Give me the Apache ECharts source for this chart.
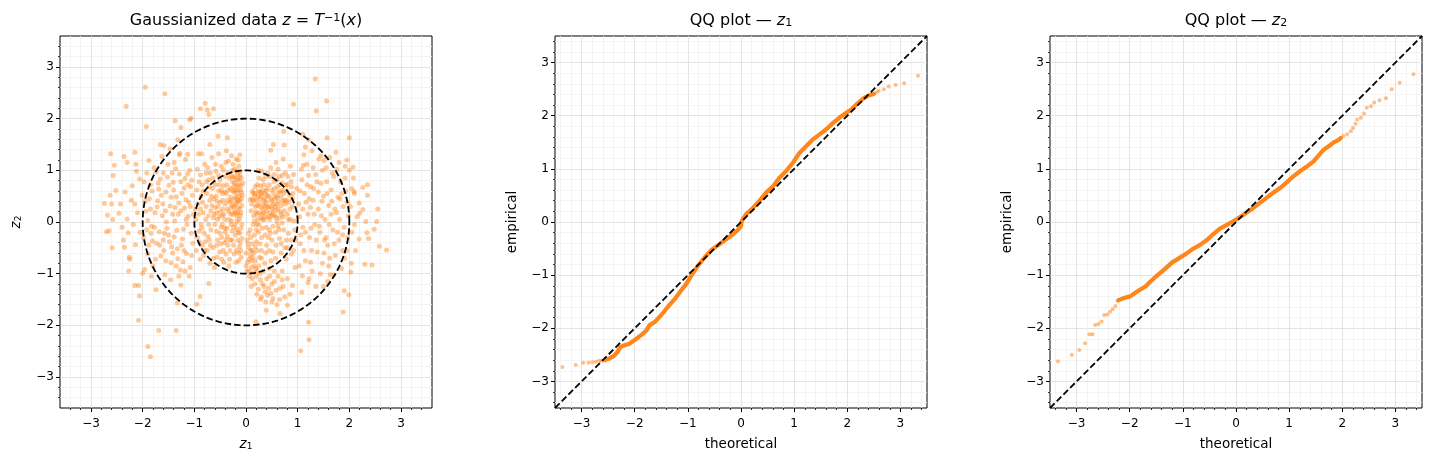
<!DOCTYPE html>
<html>
<head>
<meta charset="utf-8">
<script src="https://cdn.jsdelivr.net/npm/echarts@6/dist/echarts.min.js"></script>
<style>
    html, body { margin: 0; padding: 0; background: #fff; }
    #chart { width: 1432px; height: 462px; }
</style>
</head>
<body>
<div id="chart"></div>
<script>
// 数据: 读自原图
const majorTicks = [-3, -2, -1, 0, 1, 2, 3]
const circleRadii = [1, 2]

// 散点 z = T^-1(x)
const scatterPoints = [
    // 外围点
    [-1.95, 2.61], [-1.57, 2.48], [-2.32, 2.24], [1.34, 2.77], [1.56, 2.34], [1.36, 2.15], [0.92, 2.28],
    [-0.79, 2.3], [-0.88, 2.19], [-0.75, 2.17], [-0.63, 2.19], [-0.72, 2.08], [-1.06, 2.01], [-1.09, 1.98],
    [-1.37, 1.96], [-1.26, 1.83], [-1.93, 1.85],
    [-2.62, 1.32], [-2.55, 1.1], [-2.36, 1.27], [-2.3, 1.15], [-2.15, 1.35], [-2.13, 1.12], [-2.57, 0.9],
    [-2.06, 0.83], [-2.52, 0.61], [-2.63, 0.52], [-2.34, 0.58], [-2.74, 0.36], [-2.6, 0.35], [-2.46, 0.17],
    [-2.68, 0.13], [-2.58, 0.05], [-2.65, -0.17], [-2.7, -0.19], [-2.59, -0.5], [-2.37, -0.35], [-2.28, -0.21],
    [-2.35, -0.49], [-2.26, -0.68], [-2.27, -0.95], [-2.15, -1.23], [-2.08, -1.23], [-2.06, -1.43], [-2.08, -1.9],
    [-1.9, -2.41], [-1.85, -2.61], [-1.69, -2.1], [-1.35, -2.1], [-2.0, -0.99], [-1.83, -1.05], [-1.74, -1.31],
    [-1.33, -1.57], [-1.26, -1.22], [-0.95, -1.59], [-0.89, -1.44], [-0.72, -1.19],
    [0.19, -1.93], [0.39, -1.71], [0.66, -1.77], [0.8, -1.61], [1.21, -1.94], [1.22, -2.28], [1.06, -2.49],
    [0.9, -1.23], [1.09, -1.04], [1.08, -1.36], [1.2, -1.17], [1.5, -1.25], [1.88, -1.74], [1.99, -1.41],
    [1.9, -1.33], [2.03, -0.97], [2.04, -0.8], [2.3, -0.82], [2.44, -0.83], [2.19, -0.33], [2.34, -0.21],
    [2.48, -0.14], [2.37, -0.32], [2.58, -0.47], [2.72, -0.54], [2.53, 0.01], [2.32, 0.01], [2.26, 0.24],
    [2.55, 0.25], [2.19, 0.37], [2.35, 0.52], [2.35, 0.72], [2.26, 0.67], [2.09, 0.59], [2.07, 1.06],
    [2.0, 1.63], [2.2, 0.17], [1.92, 1.08], [1.57, 1.63], [1.51, 1.19], [1.21, 1.59], [1.1, 1.7],
    [0.73, 1.75], [0.74, 1.49], [0.53, 1.5], [0.48, 1.39], [0.72, 1.22], [0.58, 1.15], [0.13, 0.56], [0.08, 0.43],
    [-0.54, 1.66], [-0.36, 1.63], [-0.7, 1.5], [-0.92, 1.32], [-0.86, 1.32], [-1.13, 1.31], [-1.29, 1.3],
    [-1.59, 1.48], [-1.66, 1.5], [-1.47, 1.42], [-1.32, 1.59],
    // 左侧环带
    [-1.92, 0.95], [-1.85, 0.72], [-1.78, 1.05], [-1.71, 0.41], [-1.66, 0.83], [-1.62, 0.12], [-1.58, -0.22],
    [-1.55, 0.58], [-1.51, 1.12], [-1.47, 0.31], [-1.44, -0.48], [-1.41, 0.77], [-1.38, 0.02], [-1.35, 0.49],
    [-1.32, -0.71], [-1.29, 0.93], [-1.26, 0.22], [-1.23, -0.33], [-1.2, 0.66], [-1.17, 1.21], [-1.14, -0.05],
    [-1.11, 0.38], [-1.08, -0.88], [-1.05, 0.81], [-1.03, -0.41], [-1.98, -0.31], [-1.94, 0.21], [-1.9, -0.62],
    [-1.87, 0.45], [-1.83, -0.08], [-1.8, -0.85], [-1.76, 0.18], [-1.73, -0.41], [-1.69, 0.64], [-1.65, -0.66],
    [-1.61, 0.35], [-1.57, -1.02], [-1.53, -0.12], [-1.49, 0.71], [-1.45, -0.79], [-1.42, 0.15], [-1.39, -0.29],
    [-1.36, 1.03], [-1.33, -0.52], [-1.3, 0.37], [-1.27, -0.93], [-1.24, 0.55], [-1.21, -0.14], [-1.18, 0.84],
    [-1.15, -0.61], [-1.12, 0.11], [-1.09, 1.0], [-1.06, -0.22], [-1.04, 0.52], [-2.01, 0.52], [-1.96, -0.92],
    [-1.88, 1.19], [-1.81, -0.37], [-1.74, 0.97], [-1.68, -0.19], [-1.63, 1.27], [-1.59, -0.55], [-1.52, 0.87],
    [-1.46, -1.12], [-1.4, 0.62], [-1.34, -0.16], [-1.28, 1.33], [-1.22, -0.77], [-1.16, 0.43], [-1.1, -1.05],
    [-1.07, 0.68], [-1.9, 0.03], [-1.72, 0.29], [-1.56, 0.22], [-1.37, 0.28], [-1.19, 0.27], [-1.84, -0.22],
    [-1.48, -0.38], [-1.25, -0.45], [-1.13, 0.93], [-1.64, 0.52], [-1.43, 0.95], [-1.97, 0.78], [-2.1, 0.18],
    [-2.18, -0.05], [-2.22, 0.42], [-2.14, -0.44], [-2.2, 0.7], [-2.25, -0.72], [-2.3, 0.06], [-2.4, -0.1],
    [-2.12, 0.98], [-2.43, 0.35],
    [-1.95, 0.4], [-1.88, -0.45], [-1.82, 0.6], [-1.77, -0.1], [-1.7, 0.75], [-1.67, -0.45], [-1.6, 0.95],
    [-1.54, 0.0], [-1.5, -0.25], [-1.45, 0.48], [-1.39, 1.15], [-1.35, -0.85], [-1.31, 0.15], [-1.26, 0.78],
    [-1.2, -0.55], [-1.16, 0.05], [-1.12, 0.72], [-1.08, 0.3], [-1.05, -0.65], [-1.02, 0.15], [-1.55, -0.75],
    [-1.75, -0.72], [-1.42, -0.6], [-1.3, -1.05], [-1.18, -0.95], [-1.6, -0.35], [-1.85, 0.25], [-2.05, -0.2],
    [-2.15, 0.35], [-1.92, -0.15],
    // 左侧内簇
    [-0.95, 0.62], [-0.92, 0.15], [-0.9, -0.38], [-0.88, 0.91], [-0.86, -0.12], [-0.84, 0.38], [-0.82, -0.65],
    [-0.8, 1.12], [-0.78, 0.05], [-0.76, 0.55], [-0.74, -0.28], [-0.72, 0.82], [-0.7, -0.8], [-0.68, 0.22],
    [-0.66, 1.25], [-0.64, -0.5], [-0.62, 0.45], [-0.6, -0.05], [-0.58, 0.98], [-0.56, -0.68], [-0.54, 0.3],
    [-0.52, 0.72], [-0.5, -0.22], [-0.48, 1.08], [-0.46, 0.12], [-0.44, -0.55], [-0.42, 0.58], [-0.4, 0.88],
    [-0.38, -0.35], [-0.36, 0.25], [-0.34, 1.18], [-0.32, -0.72], [-0.3, 0.48], [-0.28, 0.02], [-0.26, 0.78],
    [-0.24, -0.45], [-0.22, 1.02], [-0.2, 0.35], [-0.18, -0.15], [-0.16, 0.62], [-0.14, -0.6], [-0.12, 0.9],
    [-0.1, 0.18], [-0.08, -0.32], [-0.07, 0.52], [-0.93, 0.35], [-0.89, -0.72], [-0.85, 0.72], [-0.81, -0.22],
    [-0.77, 0.95], [-0.73, 0.12], [-0.69, -0.45], [-0.65, 0.65], [-0.61, -0.88], [-0.57, 0.18], [-0.53, 1.32],
    [-0.49, -0.42], [-0.45, 0.42], [-0.41, -0.12], [-0.37, 0.72], [-0.33, -0.85], [-0.29, 0.28], [-0.25, 1.12],
    [-0.21, -0.25], [-0.17, 0.82], [-0.13, 0.05], [-0.09, -0.68], [-0.06, 0.75], [-0.35, 0.95], [-0.3, 0.65],
    [-0.27, 0.42], [-0.23, 0.58], [-0.19, 0.45], [-0.15, 0.28], [-0.11, 0.62], [-0.22, 0.75], [-0.18, 0.98],
    [-0.14, 1.08], [-0.12, 0.4], [-0.09, 0.85], [-0.25, 0.15], [-0.2, -0.05], [-0.16, -0.35], [-0.13, -0.48],
    [-0.1, -0.12], [-0.27, -0.18], [-0.31, -0.55], [-0.19, -0.78], [-0.24, 0.88], [-0.28, 1.28], [-0.15, 1.2],
    [-0.4, 0.35], [-0.46, 0.55], [-0.52, 0.1], [-0.55, -0.35], [-0.6, 0.28], [-0.47, -0.72], [-0.43, 0.15],
    [-0.39, -0.62], [-0.63, 0.08], [-0.7, 0.42], [-0.75, -0.55], [-0.68, -0.15], [-0.57, -0.18], [-0.5, 0.82],
    [-0.44, 1.0], [-0.38, 1.38], [-0.33, 0.05], [-0.2, 0.18], [-0.12, -0.22], [-0.08, 0.32], [-0.11, 0.98],
    [-0.17, 0.55], [-0.26, 0.32], [-0.36, -0.28], [-0.42, -0.4], [-0.58, 0.5], [-0.64, 0.85], [-0.71, 0.68],
    [-0.79, -0.38], [-0.83, 0.18], [-0.87, 0.5], [-0.91, -0.18], [-0.97, 0.05], [-0.96, -0.55], [-0.94, 1.02],
    [-0.14, 0.72], [-0.16, 0.92], [-0.2, 0.62], [-0.23, 0.3], [-0.18, 0.12], [-0.12, 0.25], [-0.1, 0.7],
    [-0.13, 0.5], [-0.21, 0.85], [-0.26, 0.6], [-0.29, 0.15], [-0.17, 0.38], [-0.24, -0.1], [-0.15, -0.2],
    [-0.11, -0.4], [-0.19, -0.55], [-0.3, -0.35], [-0.35, 0.42], [-0.45, 0.25], [-0.5, 0.38], [-0.55, 0.05],
    [-0.48, -0.1], [-0.4, -0.2], [-0.62, 0.15],
    [-0.98, 0.25], [-0.94, -0.3], [-0.91, 0.78], [-0.87, -0.05], [-0.83, 0.6], [-0.8, -0.55], [-0.77, 0.3],
    [-0.74, 1.05], [-0.71, -0.35], [-0.67, 0.5], [-0.63, -0.7], [-0.6, 0.72], [-0.57, -0.45], [-0.53, 0.9],
    [-0.5, 0.2], [-0.47, -0.3], [-0.44, 0.7], [-0.41, 0.05], [-0.38, 0.55], [-0.35, -0.45], [-0.32, 0.85],
    [-0.29, -0.05], [-0.26, 1.0], [-0.23, -0.62], [-0.21, 0.48], [-0.18, 0.7], [-0.15, 0.42], [-0.13, 0.82],
    [-0.11, 0.12], [-0.09, 0.58], [-0.08, -0.05], [-0.1, -0.55], [-0.14, -0.75], [-0.17, 0.02], [-0.22, 0.22],
    [-0.27, -0.35], [-0.31, 0.38], [-0.34, 0.62], [-0.39, 1.15], [-0.43, -0.78], [-0.48, 0.62], [-0.51, -0.58],
    [-0.56, 0.4], [-0.59, 1.12], [-0.66, 0.32], [-0.69, 0.95], [-0.72, -0.05], [-0.76, 0.78], [-0.85, -0.45],
    [-0.88, 0.25], [-0.12, 1.3], [-0.19, 1.22], [-0.09, 0.45], [-0.16, 0.18], [-0.24, 0.68], [-0.28, 0.88],
    [-0.33, 0.2], [-0.37, -0.12], [-0.46, -0.05], [-0.53, 0.6],
    // 右侧内簇
    [0.12, 0.45], [0.15, 0.12], [0.18, 0.68], [0.2, -0.15], [0.22, 0.32], [0.25, 0.85], [0.27, -0.42],
    [0.3, 0.55], [0.32, 0.05], [0.35, 0.72], [0.37, -0.25], [0.4, 0.38], [0.42, 0.95], [0.45, -0.55],
    [0.47, 0.18], [0.5, 0.62], [0.52, -0.08], [0.55, 0.45], [0.57, -0.7], [0.6, 0.82], [0.62, 0.25],
    [0.65, -0.32], [0.67, 0.58], [0.7, -0.02], [0.72, 0.4], [0.75, -0.5], [0.77, 0.72], [0.8, 0.15],
    [0.82, -0.22], [0.85, 0.52], [0.88, -0.62], [0.9, 0.3], [0.93, 0.02], [0.96, -0.35], [0.98, 0.65],
    [0.1, 0.22], [0.14, -0.05], [0.17, 0.52], [0.21, 0.15], [0.24, 0.6], [0.28, 0.28], [0.31, -0.12],
    [0.34, 0.42], [0.38, 0.1], [0.41, 0.65], [0.44, -0.3], [0.48, 0.45], [0.51, 0.25], [0.54, 0.78],
    [0.58, 0.08], [0.61, 0.5], [0.64, -0.15], [0.68, 0.32], [0.71, 0.62], [0.74, 0.22], [0.78, -0.35],
    [0.83, 0.38], [0.86, 0.05], [0.91, 0.55], [0.94, -0.15], [0.2, 0.42], [0.26, 0.18], [0.33, 0.25],
    [0.36, 0.55], [0.43, 0.3], [0.46, 0.05], [0.53, 0.35], [0.56, 0.12], [0.63, 0.4], [0.66, 0.72],
    [0.73, 0.55], [0.79, 0.42], [0.81, 0.88], [0.87, 0.78], [0.7, 0.9], [0.62, 1.02], [0.55, 0.92],
    [0.48, 1.05], [0.38, 0.88], [0.3, 0.98], [0.24, 1.0], [0.86, 1.08], [0.92, 0.92], [0.58, -0.45],
    [0.68, -0.6], [0.48, -0.75], [0.38, -0.6], [0.78, -0.72], [0.92, -0.55],
    [0.18, 0.3], [0.23, 0.05], [0.27, 0.45], [0.31, 0.15], [0.35, 0.35], [0.4, 0.2], [0.44, 0.5],
    [0.49, 0.12], [0.53, 0.55], [0.57, 0.3], [0.16, -0.25], [0.2, -0.38], [0.12, -0.55], [0.08, -0.15],
    [0.24, -0.2], [0.3, -0.3], [0.45, -0.15], [0.6, 0.0], [0.5, -0.35], [0.66, 0.2], [0.39, 0.6], [0.28, 0.7],
    [0.11, 0.35], [0.13, 0.6], [0.16, 0.02], [0.19, 0.2], [0.21, -0.05], [0.23, 0.5], [0.26, 0.35],
    [0.29, 0.08], [0.32, 0.62], [0.34, 0.18], [0.37, 0.45], [0.39, -0.1], [0.42, 0.28], [0.45, 0.72],
    [0.47, -0.22], [0.5, 0.4], [0.52, 0.15], [0.55, 0.65], [0.57, -0.2], [0.6, 0.35], [0.63, 0.58],
    [0.65, 0.08], [0.68, 0.48], [0.7, 0.75], [0.73, -0.15], [0.76, 0.35], [0.79, 0.6], [0.82, 0.05],
    [0.85, 0.25], [0.88, 0.68], [0.15, 0.42], [0.22, 0.72], [0.29, 0.5], [0.35, 0.05], [0.41, 0.52],
    [0.49, 0.3], [0.56, 0.22], [0.62, -0.08], [0.69, 0.15], [0.75, 0.42], [0.8, 0.72], [0.87, -0.35],
    [0.9, 0.45], [0.33, 0.82], [0.46, 0.88], [0.64, 0.88], [0.76, 0.95], [0.52, -0.58], [0.4, -0.45],
    [0.68, -0.42], [0.3, -0.55], [0.8, -0.5], [0.25, -0.05], [0.18, 0.55], [0.36, 0.3], [0.44, 0.1],
    [0.58, 0.48], [0.72, 0.1], [0.61, 0.68], [0.27, 0.58],
    // 右下瓣
    [0.02, -0.35], [0.05, -0.5], [0.08, -0.65], [0.03, -0.78], [0.1, -0.88], [0.06, -0.95], [0.12, -0.42],
    [0.15, -0.6], [0.18, -0.75], [0.14, -0.98], [0.2, -1.05], [0.22, -0.55], [0.25, -0.85], [0.28, -1.12],
    [0.17, -1.2], [0.24, -1.3], [0.3, -0.7], [0.33, -0.95], [0.35, -1.25], [0.4, -1.1], [0.42, -1.42],
    [0.3, -1.45], [0.45, -0.9], [0.5, -1.2], [0.52, -1.48], [0.58, -1.32], [0.62, -1.05], [0.55, -0.95],
    [0.65, -1.5], [0.72, -1.25], [0.7, -0.95], [0.8, -1.1], [0.85, -1.4], [0.05, -0.22], [0.0, -0.6],
    [0.09, -0.3], [0.11, -0.75], [0.0, -0.85], [0.07, -1.05], [0.19, -0.9], [0.26, -0.68], [0.36, -0.8],
    [0.44, -1.28], [0.38, -1.55], [0.6, -1.6], [0.48, -1.38], [0.75, -1.45], [0.95, -0.88],
    [0.04, -0.42], [0.09, -0.55], [0.13, -0.68], [0.06, -0.72], [0.16, -0.85], [0.22, -0.95], [0.12, -1.1],
    [0.27, -1.0], [0.32, -1.2], [0.21, -1.4], [0.37, -1.35], [0.46, -1.05], [0.55, -1.15], [0.66, -1.28],
    [0.02, -0.95], [0.1, -1.25], [0.28, -1.5], [0.5, -1.55], [0.7, -1.12], [0.18, -0.48],
    // 右侧环带
    [1.02, 0.35], [1.05, -0.42], [1.08, 0.82], [1.1, -0.1], [1.13, 0.55], [1.15, -0.75], [1.18, 1.12],
    [1.2, 0.15], [1.23, -0.3], [1.25, 0.68], [1.28, -0.95], [1.3, 0.42], [1.33, -0.05], [1.35, 0.92],
    [1.38, -0.58], [1.4, 0.25], [1.43, -0.2], [1.45, 0.75], [1.48, -0.8], [1.5, 0.5], [1.53, 0.05],
    [1.55, 1.05], [1.58, -0.45], [1.6, 0.32], [1.63, -1.02], [1.65, 0.62], [1.68, -0.15], [1.7, 0.88],
    [1.73, -0.65], [1.75, 0.18], [1.78, 0.48], [1.8, -0.35], [1.83, 0.78], [1.85, -0.9], [1.88, 0.3],
    [1.9, -0.1], [1.93, 0.6], [1.95, -0.55], [1.98, 0.12], [1.04, 0.1], [1.07, 1.02], [1.12, -0.55],
    [1.16, 0.38], [1.21, 0.9], [1.26, -0.12], [1.31, 0.65], [1.36, -0.35], [1.41, 1.22], [1.46, 0.12],
    [1.51, -0.6], [1.56, 0.78], [1.61, -0.05], [1.66, 0.4], [1.71, -0.42], [1.76, 1.02], [1.81, 0.05],
    [1.86, 0.55], [1.91, -0.7], [1.96, 0.38], [1.12, 1.3], [1.28, 1.38], [1.45, 1.28], [1.62, 1.25],
    [1.74, 1.35], [1.22, -1.1], [1.35, -1.25], [1.58, -1.15], [1.7, -1.02], [1.55, -0.3], [1.4, 0.58],
    [1.25, 0.28], [1.65, 0.15], [1.87, -0.25], [2.02, 0.3], [2.05, -0.2], [2.1, 0.55], [2.12, -0.55],
    [2.08, 0.85], [2.15, 0.1], [2.0, 1.0], [1.95, 1.2], [1.15, 1.45], [1.03, -0.85],
    [1.05, 0.6], [1.1, 0.25], [1.15, -0.2], [1.18, 0.72], [1.22, 0.45], [1.27, -0.55], [1.32, 0.15],
    [1.37, 0.78], [1.42, -0.08], [1.47, 0.4], [1.52, -0.35], [1.57, 0.55], [1.62, -0.7], [1.67, 0.95],
    [1.72, 0.25], [1.77, -0.2], [1.82, 0.45], [1.87, -0.55], [1.92, 0.85], [1.97, -0.3], [1.06, -0.25],
    [1.11, 1.1], [1.3, 1.05], [1.48, 1.0], [1.6, -0.85], [1.44, -1.0], [1.25, -0.78], [1.8, 1.15],
    [2.05, 0.65], [2.1, -0.05],
]

// QQ z1: 密集段 + 尾部散点
const qq1Dense = [
    [-2.57, -2.6], [-2.48, -2.57], [-2.38, -2.51], [-2.32, -2.44], [-2.27, -2.35], [-2.19, -2.32], [-2.1, -2.29],
    [-2.0, -2.22], [-1.88, -2.13], [-1.78, -2.04], [-1.72, -1.94], [-1.62, -1.88], [-1.5, -1.75], [-1.37, -1.59],
    [-1.24, -1.44], [-1.12, -1.28], [-1.02, -1.15], [-0.93, -1.0], [-0.8, -0.81], [-0.67, -0.65], [-0.55, -0.52],
    [-0.42, -0.43], [-0.29, -0.33], [-0.16, -0.24], [-0.05, -0.14], [0.0, -0.08], [0.01, 0.01], [0.09, 0.14],
    [0.22, 0.26], [0.34, 0.39], [0.47, 0.55], [0.6, 0.67], [0.72, 0.83], [0.85, 0.96], [0.98, 1.12],
    [1.1, 1.3], [1.23, 1.43], [1.36, 1.56], [1.48, 1.65], [1.61, 1.75], [1.74, 1.87], [1.86, 1.97],
    [1.99, 2.06], [2.08, 2.12], [2.18, 2.22], [2.31, 2.33], [2.4, 2.38], [2.5, 2.41],
]
const qq1Tail = [
    [-3.36, -2.73], [-3.11, -2.69], [-2.97, -2.65], [-2.87, -2.65], [-2.8, -2.64], [-2.73, -2.63], [-2.67, -2.61],
    [-2.62, -2.61], [2.55, 2.44], [2.59, 2.47], [2.69, 2.5], [2.78, 2.55], [2.91, 2.58], [3.07, 2.61], [3.33, 2.75],
]

// QQ z2
const qq2Dense = [
    [-2.21, -1.47], [-2.08, -1.42], [-1.99, -1.4], [-1.92, -1.35], [-1.83, -1.29], [-1.7, -1.21], [-1.61, -1.12],
    [-1.51, -1.03], [-1.39, -0.93], [-1.29, -0.84], [-1.2, -0.76], [-1.07, -0.68], [-0.94, -0.6], [-0.82, -0.51],
    [-0.69, -0.44], [-0.56, -0.35], [-0.44, -0.24], [-0.31, -0.13], [-0.18, -0.06], [-0.06, 0.01], [0.07, 0.09],
    [0.2, 0.18], [0.32, 0.26], [0.45, 0.36], [0.58, 0.46], [0.7, 0.55], [0.83, 0.64], [0.96, 0.75],
    [1.08, 0.86], [1.21, 0.96], [1.34, 1.05], [1.46, 1.14], [1.56, 1.26], [1.65, 1.36], [1.75, 1.43],
    [1.84, 1.5], [1.94, 1.55], [1.97, 1.58],
]
const qq2Tail = [
    [-3.35, -2.62], [-3.09, -2.5], [-2.95, -2.41], [-2.84, -2.28], [-2.76, -2.11], [-2.7, -2.11], [-2.65, -1.94],
    [-2.59, -1.92], [-2.53, -1.87], [-2.48, -1.75], [-2.42, -1.74], [-2.37, -1.69], [-2.32, -1.64], [-2.27, -1.58],
    [-2.23, -1.48], [2.02, 1.62], [2.09, 1.65], [2.16, 1.71], [2.2, 1.77], [2.25, 1.85], [2.28, 1.93],
    [2.35, 1.96], [2.41, 2.04], [2.46, 2.15], [2.54, 2.18], [2.6, 2.25], [2.7, 2.29], [2.82, 2.33],
    [2.93, 2.5], [3.08, 2.62], [3.34, 2.78],
]

const FONT = 'DejaVu Sans'
const ORANGE = '#ff7f0e'

const richText = (size) => ({
    n: { fontFamily: FONT, fontSize: size, color: '#000' },
    i: { fontFamily: FONT, fontSize: size, fontStyle: 'italic', color: '#000' },
    sub: { fontFamily: FONT, fontSize: Math.round(size * 0.7), verticalAlign: 'bottom', color: '#000' },
    sup: { fontFamily: FONT, fontSize: Math.round(size * 0.7), verticalAlign: 'top', color: '#000' },
})

// 三个子图的布局
const panels = [
    { left: 60, lim: 3.6, title: '{n|Gaussianized data }{i|z}{n| = }{i|T}{sup|−1}{n|(}{i|x}{n|)}',
      xName: '{i|z}{sub|1}', yName: '{i|z}{sub|2}', yGap: 37 },
    { left: 555, lim: 3.5, title: '{n|QQ plot — }{i|z}{sub|1}', xName: 'theoretical', yName: 'empirical', yGap: 36 },
    { left: 1050, lim: 3.5, title: '{n|QQ plot — }{i|z}{sub|2}', xName: 'theoretical', yName: 'empirical', yGap: 36 },
]
const SIZE = 372
const TOP = 36

const fmt = (v) => (v < 0 ? '\u2212' + -v : String(v))

function minorValues(lim) {
    const out = []
    for (let k = Math.ceil(-lim / 0.2); k <= Math.floor(lim / 0.2); k++) {
        const v = Math.round(k * 2) / 10
        if (Number.isInteger(v) || Math.abs(v) >= lim) continue
        out.push(v)
    }
    return out
}

function makeAxes(dim, p, gi) {
    const isX = dim === 'x'
    const name = isX ? p.xName : p.yName
    const major = {
        type: 'value',
        gridIndex: gi,
        min: -p.lim,
        max: p.lim,
        position: isX ? 'bottom' : 'left',
        name: name,
        nameLocation: 'middle',
        nameGap: isX ? 29 : p.yGap,
        nameTextStyle: { fontFamily: FONT, fontSize: 13.5, color: '#000', rich: richText(13.5) },
        axisLine: { show: false, onZero: false },
        axisTick: { show: true, length: 4, lineStyle: { color: '#000', width: 1 }, customValues: majorTicks },
        axisLabel: {
            customValues: majorTicks,
            formatter: fmt,
            fontFamily: FONT,
            fontSize: 12,
            color: '#000',
            margin: isX ? 10 : 6,
        },
        splitLine: { show: true, lineStyle: { color: '#dddddd', width: 0.8 } },
        z: 1,
    }
    const minor = {
        type: 'value',
        gridIndex: gi,
        min: -p.lim,
        max: p.lim,
        position: isX ? 'bottom' : 'left',
        axisLine: { show: false, onZero: false },
        axisTick: { show: true, length: 2, lineStyle: { color: '#000', width: 0.8 }, customValues: minorValues(p.lim) },
        axisLabel: { show: false },
        splitLine: { show: true, lineStyle: { color: '#f1f1f1', width: 0.8 } },
        z: 0,
    }
    return [major, minor]
}

const chart = echarts.init(document.getElementById('chart'), null, { renderer: 'canvas' })

const grids = panels.map((p) => ({
    left: p.left,
    top: TOP,
    width: SIZE,
    height: SIZE,
    show: true,
    backgroundColor: '#fff',
    borderColor: '#000',
    borderWidth: 1,
}))

const xAxes = []
const yAxes = []
panels.forEach((p, i) => {
    xAxes.push(...makeAxes('x', p, i))
    yAxes.push(...makeAxes('y', p, i))
})

const dashed = { color: '#000', width: 1.8, type: [6.5, 3] }

// 参考圆
const circleSeries = circleRadii.map((r) => {
    const pts = []
    for (let d = 0; d <= 360; d += 2) {
        const t = (d * Math.PI) / 180
        pts.push([r * Math.cos(t), r * Math.sin(t)])
    }
    return {
        type: 'line',
        xAxisIndex: 0,
        yAxisIndex: 0,
        data: pts,
        showSymbol: false,
        lineStyle: dashed,
        z: 5,
    }
})

function qqSeries(i, dense, tail) {
    const ax = i * 2
    const lim = panels[i].lim
    return [
        {
            type: 'line',
            xAxisIndex: ax,
            yAxisIndex: ax,
            data: dense,
            showSymbol: false,
            lineStyle: { color: ORANGE, width: 4.2, opacity: 0.95, cap: 'round', join: 'round' },
            z: 3,
        },
        {
            type: 'scatter',
            xAxisIndex: ax,
            yAxisIndex: ax,
            data: tail,
            symbolSize: 4,
            itemStyle: { color: ORANGE, opacity: 0.5 },
            z: 3,
        },
        {
            type: 'line',
            xAxisIndex: ax,
            yAxisIndex: ax,
            data: [[-lim, -lim], [lim, lim]],
            showSymbol: false,
            lineStyle: dashed,
            z: 5,
        },
    ]
}

const option = {
    animation: false,
    backgroundColor: '#fff',
    grid: grids,
    xAxis: xAxes,
    yAxis: yAxes,
    graphic: panels.map((p) => ({
        type: 'text',
        x: p.left + SIZE / 2,
        y: 21,
        style: {
            text: p.title,
            align: 'center',
            verticalAlign: 'middle',
            rich: richText(16),
        },
    })),
    series: [
        {
            type: 'scatter',
            xAxisIndex: 0,
            yAxisIndex: 0,
            data: scatterPoints,
            symbolSize: 5,
            itemStyle: { color: ORANGE, opacity: 0.42 },
            z: 3,
        },
        ...circleSeries,
        ...qqSeries(1, qq1Dense, qq1Tail),
        ...qqSeries(2, qq2Dense, qq2Tail),
    ],
}

chart.setOption(option)
</script>
</body>
</html>
